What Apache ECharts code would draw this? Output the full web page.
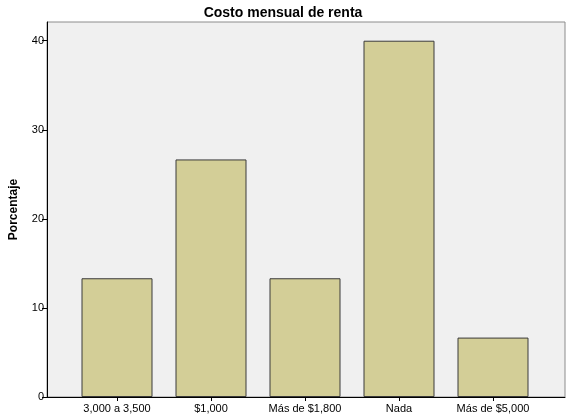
<!DOCTYPE html>
<html>
<head>
<meta charset="utf-8">
<script src="https://cdn.jsdelivr.net/npm/echarts@6/dist/echarts.min.js"></script>
<style>
  html, body { margin: 0; padding: 0; background: #fff; }
  #chart { width: 566px; height: 418px; }
</style>
</head>
<body>
<div id="chart"></div>
<script>
// data
var categories = ['3,000 a 3,500', '$1,000', 'Más de $1,800', 'Nada', 'Más de $5,000'];
var percentages = [13.33, 26.67, 13.33, 40.0, 6.67];
var yTicks = [0, 10, 20, 30, 40];

var FONT = 'Liberation Sans, Arial, sans-serif';
var Y_MAX = 42.1;

var dom = document.getElementById('chart');
var myChart = echarts.init(dom);

var option = {
    animation: false,
    backgroundColor: '#ffffff',
    title: {
        text: 'Costo mensual de renta',
        left: 'center',
        top: 1,
        textStyle: { fontFamily: FONT, fontSize: 14, fontWeight: 'bold', color: '#000' }
    },
    grid: [
        // outer frame (gray plot area)
        { left: 42, right: 1, top: 22, bottom: 21, show: true, backgroundColor: '#f0f0f0',
          borderColor: '#8c8c8c', borderWidth: 1 },
        // inner area for the bars (SPSS leaves padding on each side)
        { left: 70, right: 26, top: 22, bottom: 21 }
    ],
    xAxis: [
        { gridIndex: 0, type: 'value', min: 0, max: 1, show: true,
          axisLine: { show: true, onZero: false, lineStyle: { color: '#000', width: 1 } },
          axisTick: { show: false }, axisLabel: { show: false }, splitLine: { show: false } },
        { gridIndex: 1, type: 'category', data: categories, boundaryGap: true,
          axisLine: { show: false },
          axisTick: { show: true, alignWithLabel: true, interval: 0, length: 4, lineStyle: { color: '#000' } },
          axisLabel: { fontFamily: FONT, fontSize: 11, color: '#000', margin: 6, interval: 0 },
          splitLine: { show: false } }
    ],
    yAxis: [
        { gridIndex: 0, type: 'value', min: 0, max: Y_MAX,
          name: 'Porcentaje', nameLocation: 'middle', nameGap: 27,
          nameTextStyle: { fontFamily: FONT, fontSize: 12, fontWeight: 'bold', color: '#000' },
          axisLine: { show: true, lineStyle: { color: '#000', width: 1 } },
          axisTick: { show: true, length: 5, lineStyle: { color: '#000' },
                      customValues: yTicks },
          axisLabel: { fontFamily: FONT, fontSize: 11, color: '#000', margin: 3,
                       customValues: yTicks },
          splitLine: { show: false } },
        { gridIndex: 1, type: 'value', min: 0, max: Y_MAX, show: false }
    ],
    series: [
        {
            type: 'bar',
            xAxisIndex: 1,
            yAxisIndex: 1,
            data: percentages,
            barWidth: 71,
            itemStyle: { color: '#d3ce97', borderColor: '#3a3a3a', borderWidth: 1 }
        }
    ]
};

myChart.setOption(option);
window.addEventListener('resize', function() { myChart.resize(); });
</script>
</body>
</html>
